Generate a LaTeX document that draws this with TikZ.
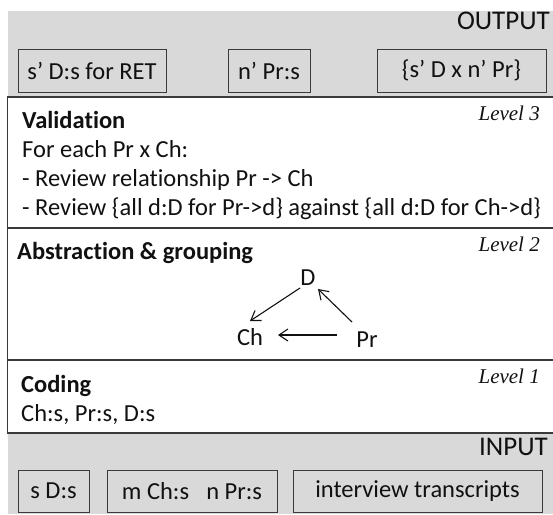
\documentclass[tikz,border=0pt]{standalone}
\usepackage{fontspec}
\setmainfont{Carlito}[Ligatures=NoCommon]
\newfontfamily\lvlfont{Liberation Serif}
\usetikzlibrary{arrows.meta,calc}
\definecolor{panelgray}{HTML}{D9D9D9}
\definecolor{edgegray}{HTML}{3A3A3A}
\definecolor{ink}{HTML}{111111}
\begin{document}
\begin{tikzpicture}[x=1pt,y=-1pt,
  body/.style={font=\fontsize{24.5}{29}\selectfont, text=ink, inner sep=0pt},
  head/.style={body, font=\fontsize{24.5}{29}\selectfont\bfseries},
  band/.style={font=\fontsize{27}{32}\selectfont, text=ink, inner sep=0pt, anchor=base east},
  lvl/.style={font=\lvlfont\itshape\fontsize{21}{25}\selectfont, text=ink, inner sep=0pt, anchor=base east},
  iobox/.style={body, draw=edgegray, line width=1pt, minimum height=43pt},
  frame/.style={draw=edgegray, line width=1.4pt},
  arr/.style={-{Straight Barb[length=9pt,width=12pt]}, line width=1.1pt, draw=ink}
]
\useasboundingbox (0,0) rectangle (553,514);

% grey output and input bands
\fill[panelgray] (8,11) rectangle (553,97);
\fill[panelgray] (8,433) rectangle (553,514);

% white level panel with its dividers
\fill[white] (7.5,97) rectangle (560,433);
\draw[frame] (560,97) -- (7.5,97) -- (7.5,433) -- (560,433);
\draw[frame] (7.5,228) -- (560,228);
\draw[frame] (7.5,360) -- (560,360);

% output band
\node[band] (outlbl) at (550,29) {OUTPUT};
\node[iobox, minimum width=148pt] (o1) at (92,70.5) {s’ D:s for RET};
\node[iobox, minimum width=82pt] (o2) at (269,70.5) {n’ Pr:s};
\node[iobox, minimum width=169pt] (o3) at (461.5,70.5) {\{s’ D x n’ Pr\}};

% level 3
\node[head, anchor=base west] (valhead) at (22,128) {Validation};
\node[lvl] (lv3) at (540,120) {Level 3};
\node[body, anchor=base west] (val1) at (22,157) {For each Pr x Ch:};
\node[body, anchor=base west] (val2) at (22,186) {- Review relationship Pr -> Ch};
\node[body, anchor=base west] (val3) at (22,215) {- Review \{all d:D for Pr->d\} against \{all d:D for Ch->d\}};

% level 2
\node[head, anchor=base west] (abshead) at (17,259) {Abstraction \& grouping};
\node[lvl] (lv2) at (540,251) {Level 2};
\node[body] (D) at (308,278) {D};
\node[body] (Ch) at (250,337) {Ch};
\node[body] (Pr) at (367,340) {Pr};
\draw[arr] ($(D)+(-8,10)$) -- ($(Ch)+(0,-16)$);
\draw[arr] ($(Pr)+(-15,-18)$) -- ($(D)+(10,11)$);
\draw[arr] ($(Pr)+(-30,-5)$) -- ($(Ch)+(28,-2)$);

% level 1
\node[head, anchor=base west] (codhead) at (21,392) {Coding};
\node[lvl] (lv1) at (540,383) {Level 1};
\node[body, anchor=base west] (cod1) at (21,421) {Ch:s, Pr:s, D:s};

% input band
\node[band] (inlbl) at (548,455) {INPUT};
\node[iobox, minimum width=71pt, minimum height=42pt] (i1) at (53.5,491) {s D:s};
\node[iobox, minimum width=170pt, minimum height=42pt] (i2) at (192,491) {m Ch:s\hspace{0.7em}n Pr:s};
\node[iobox, minimum width=249pt, minimum height=42pt] (i3) at (417.5,491) {interview transcripts};
\end{tikzpicture}
\end{document}
